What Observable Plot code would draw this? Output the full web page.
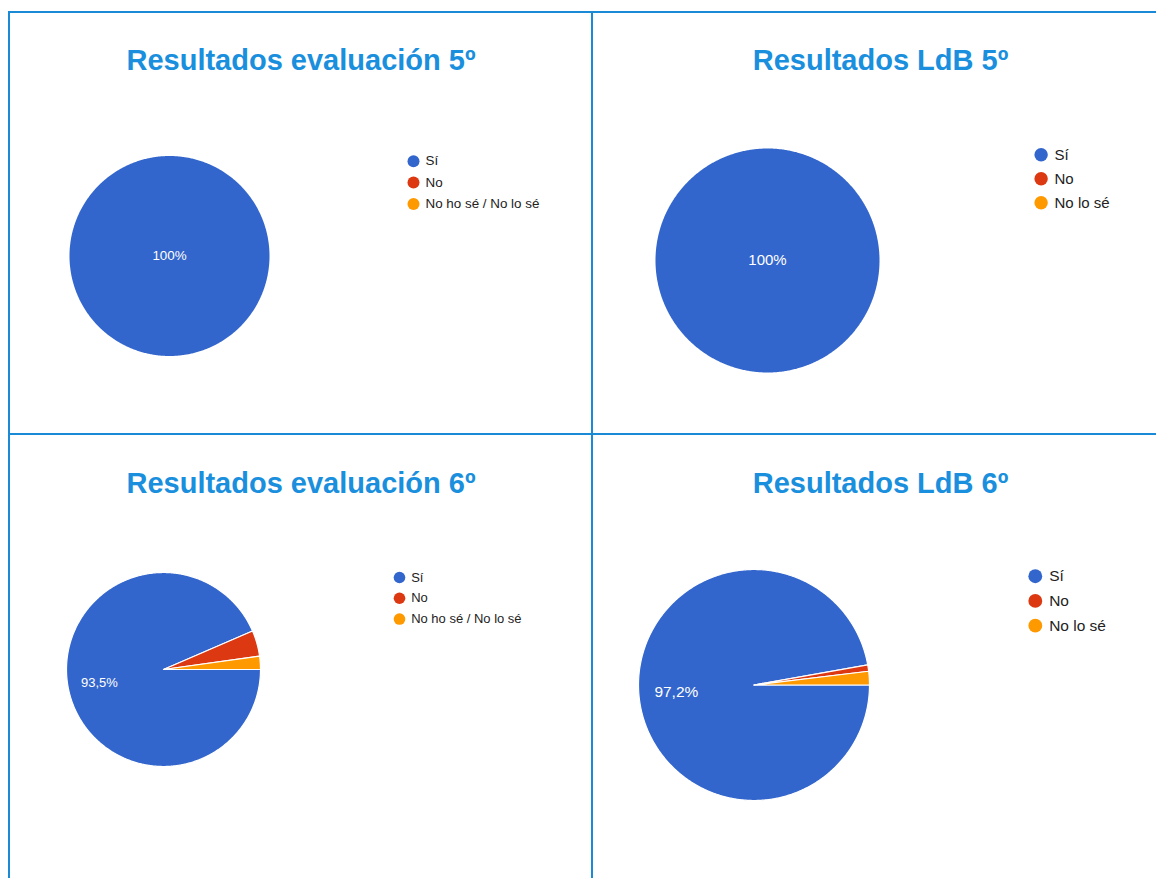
<!DOCTYPE html>
<html>
<head>
<meta charset="utf-8">
<script src="https://cdn.jsdelivr.net/npm/d3@7"></script>
<script src="https://cdn.jsdelivr.net/npm/@observablehq/plot@0.6"></script>
<style>
  html, body { margin: 0; padding: 0; background: #ffffff; }
  #page { position: relative; width: 1156px; height: 878px; overflow: hidden; background: #ffffff;
          font-family: "Liberation Sans", Arial, sans-serif; }
  .rule { position: absolute; background: #1b8ad6; }
  .title { position: absolute; font-weight: bold; font-size: 29px; line-height: 1; color: #1a8fdd;
           white-space: nowrap; transform: translateX(-50%); }
  .chart { position: absolute; }
  .chart svg { background: transparent; }
</style>
</head>
<body>
<div id="page"></div>
<script>
// ---- data ----
const titles = ["Resultados evaluación 5º", "Resultados LdB 5º", "Resultados evaluación 6º", "Resultados LdB 6º"];
const categoriesEval = ["Sí", "No", "No ho sé / No lo sé"];
const categoriesLdB = ["Sí", "No", "No lo sé"];
const sliceColors = ["#3366cc", "#dc3912", "#ff9900"];
const valuesEval5 = [100, 0, 0];
const valuesLdB5 = [100, 0, 0];
const valuesEval6 = [93.5, 4.3, 2.2];
const valuesLdB6 = [97.2, 0.9, 1.9];

// ---- layout (page pixels) ----
const layout = [
  {left: 10,  top: 13,  width: 581, height: 420, titleX: 301,   titleTop: 46,  cx: 169,   cy: 255.5, r: 100,   lx: 413,    ly: 160.7},
  {left: 593, top: 13,  width: 563, height: 420, titleX: 880.5, titleTop: 46,  cx: 767,   cy: 260,   r: 112,   lx: 1040.6, ly: 154.3},
  {left: 10,  top: 435, width: 581, height: 443, titleX: 301,   titleTop: 469, cx: 163,   cy: 669,   r: 97,    lx: 399,    ly: 577},
  {left: 593, top: 435, width: 563, height: 443, titleX: 880.5, titleTop: 469, cx: 753.5, cy: 684.5, r: 115.5, lx: 1034.8, ly: 575.7}
];
const charts = [
  {title: titles[0], categories: categoriesEval, values: valuesEval5},
  {title: titles[1], categories: categoriesLdB,  values: valuesLdB5},
  {title: titles[2], categories: categoriesEval, values: valuesEval6},
  {title: titles[3], categories: categoriesLdB,  values: valuesLdB6}
];

const page = document.getElementById("page");
function rule(x, y, w, h) {
  const d = document.createElement("div");
  d.className = "rule";
  Object.assign(d.style, {left: x + "px", top: y + "px", width: w + "px", height: h + "px"});
  page.appendChild(d);
}
rule(8, 11, 1148, 2);
rule(8, 11, 2, 867);
rule(591, 11, 2, 867);
rule(8, 433, 1148, 2);

function fmt(v) {
  return (Number.isInteger(v) ? String(v) : v.toFixed(1).replace(".", ",")) + "%";
}

charts.forEach((c, ci) => {
  const L = layout[ci];
  const s = L.r / 100;
  const cx = L.cx - L.left, cy = L.cy - L.top, r = L.r;

  // title
  const t = document.createElement("div");
  t.className = "title";
  t.textContent = c.title;
  t.style.left = L.titleX + "px";
  t.style.top = L.titleTop + "px";
  page.appendChild(t);

  // slices from data
  const arcs = d3.pie().sort(null)
    .startAngle(Math.PI / 2).endAngle(Math.PI / 2 + 2 * Math.PI)(c.values);
  const features = arcs.filter(a => a.value > 0).map(a => {
    const span = a.endAngle - a.startAngle;
    const full = span >= 2 * Math.PI - 1e-9;
    const n = Math.max(4, Math.ceil(span / (Math.PI / 360)));
    const ring = [];
    if (!full) ring.push([cx, cy]);
    for (let k = 0; k <= n; k++) {
      const ang = a.startAngle + span * k / n;
      ring.push([cx + r * Math.sin(ang), cy - r * Math.cos(ang)]);
    }
    ring.push(ring[0]);
    return {type: "Feature", properties: {cat: c.categories[a.index], full},
            geometry: {type: "Polygon", coordinates: [ring]}};
  });
  const labels = arcs.filter(a => a.value >= 5).map(a => {
    const span = a.endAngle - a.startAngle;
    const mid = (a.startAngle + a.endAngle) / 2;
    const rr = span >= 2 * Math.PI - 1e-9 ? 0 : 0.675 * r;
    return {x: cx + rr * Math.sin(mid), y: cy - rr * Math.cos(mid), text: fmt(a.value)};
  });
  const legend = c.categories.map((cat, i) => ({cat, x: L.lx - L.left, y: L.ly - L.top + i * 21.4 * s}));

  const W = L.width, H = L.height;
  const domain = {type: "Polygon", coordinates: [[[0, 0], [W, 0], [W, H], [0, H], [0, 0]]]};
  const plot = Plot.plot({
    width: W, height: H,
    margin: 0,
    projection: {type: "identity", domain, inset: 0},
    color: {domain: c.categories, range: sliceColors},
    style: {fontFamily: "Arial, 'Liberation Sans', sans-serif", background: "transparent"},
    marks: [
      Plot.geo(features, {fill: d => d.properties.cat, stroke: "#ffffff", strokeWidth: d => d.properties.full ? 0 : 1.2}),
      Plot.text(labels, {x: "x", y: "y", text: "text", fill: "#ffffff", fontSize: 13.4 * s}),
      Plot.dot(legend, {x: "x", y: "y", r: 6 * s, fill: "cat", stroke: null}),
      Plot.text(legend, {x: d => d.x + 12 * s, y: "y", text: "cat", textAnchor: "start", fill: "#222222", fontSize: 13.4 * s})
    ]
  });
  const holder = document.createElement("div");
  holder.className = "chart";
  Object.assign(holder.style, {left: L.left + "px", top: L.top + "px", width: W + "px", height: H + "px"});
  holder.appendChild(plot);
  page.appendChild(holder);
});
</script>
</body>
</html>
